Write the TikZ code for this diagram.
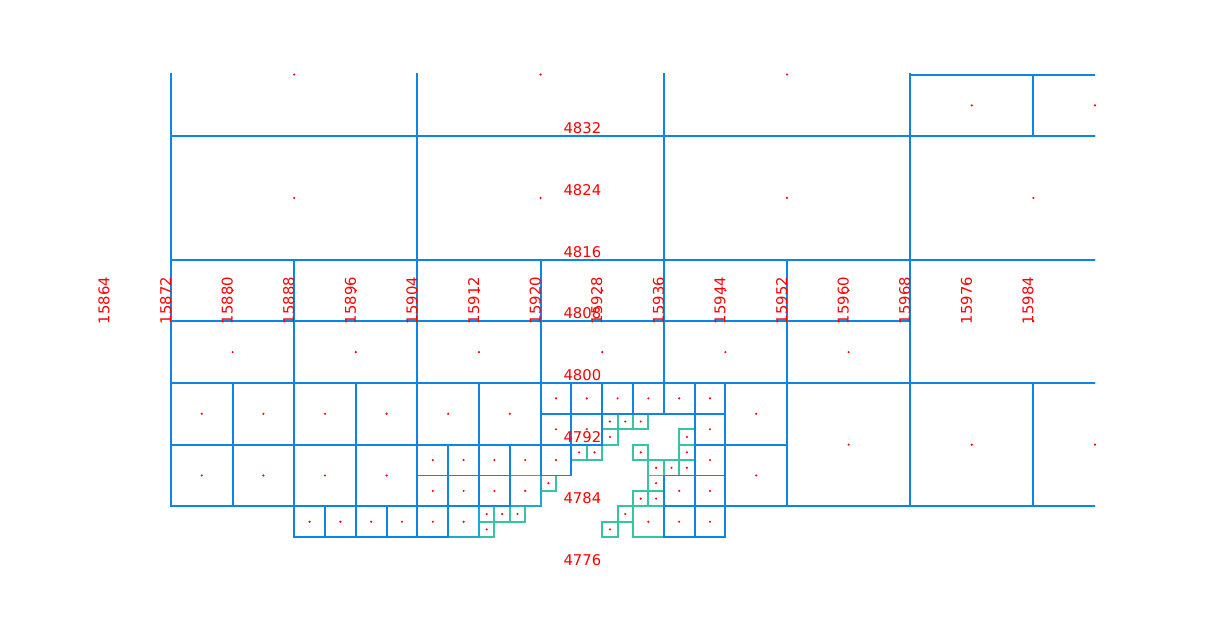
\documentclass[tikz,border=0pt]{standalone}
\usepackage{fontspec}
\setmainfont{DejaVu Sans}
\definecolor{cA}{RGB}{14,132,228}
\definecolor{cB}{RGB}{30,168,212}
\definecolor{cC}{RGB}{56,196,160}
\begin{document}
\begin{tikzpicture}[x=7.7pt,y=7.71pt,
  cellA/.style={draw=cA,line width=1.9pt},
  cellB/.style={draw=cB,line width=1.9pt},
  cellC/.style={draw=cC,line width=1.9pt},
  ctr/.style={fill=red},
  lbl/.style={text=red,inner sep=0pt,font=\fontsize{14.8pt}{16pt}\selectfont}]
\useasboundingbox (-22.208,-6.744) rectangle (136.234,73.671);
\def\listA{0/56/32/72, 32/56/64/72, 64/56/96/72, 96/56/112/64, 112/56/128/64,
0/40/32/56, 32/40/64/56, 64/40/96/56, 96/40/128/56,
0/32/16/40, 16/32/32/40, 32/32/48/40, 48/32/64/40, 64/32/80/40, 80/32/96/40,
0/24/16/32, 16/24/32/32, 32/24/48/32, 48/24/64/32, 64/24/80/32, 80/24/96/32,
96/24/128/40,
0/16/8/24, 8/16/16/24, 16/16/24/24, 24/16/32/24, 32/16/40/24, 40/16/48/24,
0/8/8/16, 8/8/16/16, 16/8/24/16, 24/8/32/16,
72/16/80/24, 72/8/80/16,
80/8/96/24, 96/8/112/24, 112/8/128/24,
48/20/52/24, 52/20/56/24, 56/20/60/24, 60/20/64/24, 64/20/68/24, 68/20/72/24,
48/16/52/20, 52/16/56/20, 68/16/72/20,
32/12/36/16, 36/12/40/16, 40/12/44/16, 48/12/52/16, 68/12/72/16,
32/8/36/12, 36/8/40/12, 40/8/44/12, 64/8/68/12, 68/8/72/12,
16/4/20/8, 20/4/24/8, 24/4/28/8, 28/4/32/8, 32/4/36/8, 64/4/68/8, 68/4/72/8}
\def\listB{44/12/48/16, 44/8/48/12, 36/4/40/8}
\def\listC{52/14/54/16, 54/14/56/16, 56/18/58/20, 58/18/60/20, 60/18/62/20,
56/16/58/18, 66/16/68/18, 66/14/68/16, 60/14/62/16, 62/12/64/14, 64/12/66/14,
66/12/68/14, 48/10/50/12, 62/10/64/12, 60/8/62/10, 62/8/64/10, 58/6/60/8,
56/4/58/6, 40/6/42/8, 42/6/44/8, 44/6/46/8, 40/4/42/6, 60/4/64/8}
\begin{scope}
\clip (-0.5,-1) rectangle (120,64.2);
\foreach \a/\b/\c/\d in \listC {\draw[cellC] (\a,\b) rectangle (\c,\d);}
\foreach \a/\b/\c/\d in \listB {\draw[cellB] (\a,\b) rectangle (\c,\d);}
\foreach \a/\b/\c/\d in \listA {\draw[cellA] (\a,\b) rectangle (\c,\d);}
\end{scope}
\foreach \a/\b/\c/\d in \listA {\fill[ctr] ({(\a+\c)/2},{min((\b+\d)/2,64.3)}) circle (1.2pt);}
\foreach \a/\b/\c/\d in \listB {\fill[ctr] ({(\a+\c)/2},{(\b+\d)/2}) circle (1.2pt);}
\foreach \a/\b/\c/\d in \listC {\fill[ctr] ({(\a+\c)/2},{(\b+\d)/2}) circle (1.2pt);}
\foreach \k in {0,...,15} {
  \pgfmathtruncatemacro\lab{15864+8*\k}
  \node[lbl,rotate=90,anchor=base west] (xl\k) at ({-8+8*\k},31.6) {\lab};
}
\foreach \k in {0,...,7} {
  \pgfmathtruncatemacro\lab{4832-8*\k}
  \node[lbl,anchor=base west] (yl\k) at (50.95,{56-8*\k+0.33}) {\lab};
}
\end{tikzpicture}
\end{document}
